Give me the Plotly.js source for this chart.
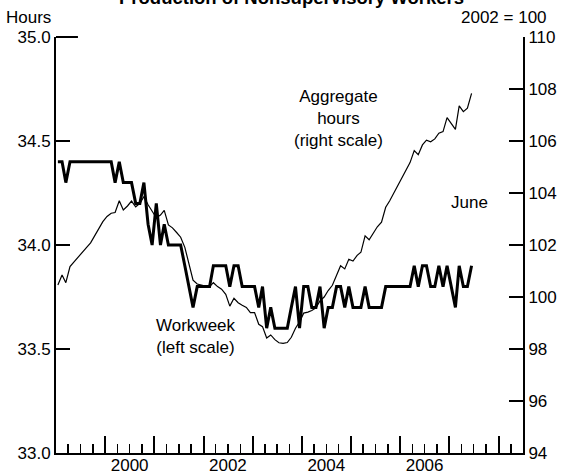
<!DOCTYPE html>
<html>
<head>
<meta charset="utf-8">
<script src="https://cdn.plot.ly/plotly-3.0.1.min.js"></script>
<style>
html,body{margin:0;padding:0;background:#fff;}
#chart{width:566px;height:476px;}
</style>
</head>
<body>
<div id="chart"></div>
<script>
// Monthly series, January 1999 through June 2007
const firstYear = 1999;
const firstMonth = 1;

// Average weekly hours of production or nonsupervisory workers (left scale)
const workweek = [
  34.4, 34.4, 34.3, 34.4, 34.4, 34.4, 34.4, 34.4, 34.4, 34.4, 34.4, 34.4,
  34.4, 34.4, 34.3, 34.4, 34.3, 34.3, 34.3, 34.2, 34.2, 34.3, 34.1, 34.0,
  34.2, 34.0, 34.1, 34.0, 34.0, 34.0, 34.0, 33.9, 33.8, 33.7, 33.8, 33.8,
  33.8, 33.8, 33.9, 33.9, 33.9, 33.9, 33.8, 33.9, 33.9, 33.8, 33.8, 33.8,
  33.8, 33.7, 33.8, 33.6, 33.7, 33.6, 33.6, 33.6, 33.6, 33.7, 33.8, 33.6,
  33.8, 33.8, 33.7, 33.7, 33.8, 33.6, 33.7, 33.7, 33.8, 33.8, 33.7, 33.8,
  33.7, 33.7, 33.7, 33.8, 33.7, 33.7, 33.7, 33.7, 33.8, 33.8, 33.8, 33.8,
  33.8, 33.8, 33.8, 33.9, 33.8, 33.9, 33.9, 33.8, 33.8, 33.9, 33.8, 33.9,
  33.8, 33.7, 33.9, 33.8, 33.8, 33.9
];

// Aggregate hours index, 2002 = 100 (right scale)
const aggregateHours = [
  100.46, 100.85, 100.55, 101.17, 101.35, 101.55, 101.70, 101.90, 102.08, 102.35, 102.64, 102.90,
  103.10, 103.22, 103.25, 103.70, 103.35, 103.50, 103.69, 103.47, 103.60, 103.86, 103.55, 103.30,
  103.05, 103.15, 103.33, 102.77, 102.66, 102.48, 102.30, 101.91, 101.27, 100.65, 100.50, 100.45,
  100.42, 100.40, 100.55, 100.40, 100.30, 100.10, 99.65, 99.95, 99.78, 99.68, 99.60, 99.40,
  99.40, 98.95, 98.86, 98.42, 98.54, 98.36, 98.24, 98.22, 98.25, 98.45, 98.80, 99.05,
  99.38, 99.42, 99.48, 99.58, 99.85, 100.00, 100.25, 100.45, 100.85, 101.20, 101.08, 101.45,
  101.38, 101.60, 101.72, 102.35, 102.20, 102.48, 102.70, 102.88, 103.45, 103.70, 104.00, 104.35,
  104.60, 104.90, 105.17, 105.63, 105.47, 105.85, 106.03, 105.97, 106.08, 106.30, 106.36, 106.90,
  106.68, 106.45, 107.35, 107.13, 107.26, 107.83
];

const yearLabels = ['2000', '2002', '2004', '2006'];
const yearLabelDates = ['2000-07-01', '2002-07-01', '2004-07-01', '2006-07-01'];
const leftTicks = [33.0, 33.5, 34.0, 34.5, 35.0];
const leftTickText = ['33.0', '33.5', '34.0', '34.5', '35.0'];
const rightTicks = [94, 96, 98, 100, 102, 104, 106, 108, 110];
const xRange = ['1999-01-01', '2008-07-01'];

const months = workweek.map((_, i) => {
  const m = firstMonth - 1 + i;
  const y = firstYear + Math.floor(m / 12);
  const mm = (m % 12) + 1;
  return y + '-' + String(mm).padStart(2, '0') + '-15';
});

const FONT = '"Liberation Sans", Arial, Helvetica, sans-serif';
const FS = 17;

const traces = [
  {
    x: months, y: workweek, xaxis: 'x', yaxis: 'y',
    type: 'scatter', mode: 'lines',
    line: {color: '#000', width: 3},
    hoverinfo: 'skip'
  },
  {
    x: months, y: aggregateHours, xaxis: 'x2', yaxis: 'y2',
    type: 'scatter', mode: 'lines',
    line: {color: '#000', width: 1.2},
    hoverinfo: 'skip'
  }
];

const layout = {
  width: 566, height: 476,
  margin: {l: 56, r: 43, t: 37, b: 23, pad: 0},
  paper_bgcolor: '#fff', plot_bgcolor: '#fff',
  showlegend: false,
  font: {family: FONT, size: FS, color: '#000'},
  xaxis: {
    type: 'date', range: xRange, automargin: false,
    tickmode: 'linear', tick0: '1999-01-01', dtick: 'M12',
    ticks: 'inside', ticklen: 17, tickwidth: 2, tickcolor: '#000',
    showticklabels: false,
    showline: true, linewidth: 2, linecolor: '#000',
    showgrid: false, zeroline: false,
    minor: {tick0: '1999-01-01', dtick: 'M3', ticks: 'inside', ticklen: 9, tickwidth: 1.5, tickcolor: '#000', showgrid: false}
  },
  xaxis2: {
    type: 'date', range: xRange, overlaying: 'x', anchor: 'y', side: 'bottom', automargin: false,
    tickmode: 'array', tickvals: yearLabelDates, ticktext: yearLabels,
    ticks: '', showline: false, showgrid: false, zeroline: false,
    tickfont: {family: FONT, size: FS, color: '#000'}
  },
  yaxis: {
    range: [33, 35], automargin: false,
    tickmode: 'array', tickvals: leftTicks, ticktext: leftTickText,
    ticks: 'inside', ticklen: 14, tickwidth: 2, tickcolor: '#000',
    showline: true, linewidth: 2, linecolor: '#000',
    showgrid: false, zeroline: false,
    tickfont: {family: FONT, size: FS, color: '#000'}
  },
  yaxis2: {
    range: [94, 110], overlaying: 'y', side: 'right', anchor: 'x', automargin: false,
    tickmode: 'array', tickvals: rightTicks,
    ticks: 'inside', ticklen: 14, tickwidth: 2, tickcolor: '#000',
    showline: true, linewidth: 2, linecolor: '#000',
    showgrid: false, zeroline: false,
    tickfont: {family: FONT, size: FS, color: '#000'}
  },
  shapes: [
    {type: 'line', xref: 'paper', yref: 'paper', x0: 0, x1: 0.047, y0: 1, y1: 1,
     line: {color: '#000', width: 2}}
  ],
  annotations: [
    {text: '<b>Production of Nonsupervisory Workers</b>', xref: 'paper', yref: 'paper',
     x: 0.505, y: 1.067, xanchor: 'center', yanchor: 'bottom', showarrow: false, borderpad: 0,
     font: {family: FONT, size: 18.5, color: '#000'}},
    {text: 'Hours', xref: 'paper', yref: 'paper', x: -0.109, y: 1.022,
     xanchor: 'left', yanchor: 'bottom', showarrow: false, borderpad: 0,
     font: {family: FONT, size: FS, color: '#000'}},
    {text: '2002 = 100', xref: 'paper', yref: 'paper', x: 1.0535, y: 1.022,
     xanchor: 'right', yanchor: 'bottom', showarrow: false, borderpad: 0,
     font: {family: FONT, size: FS, color: '#000'}},
    {text: 'Aggregate<br>hours<br>(right scale)', xref: 'paper', yref: 'paper', x: 0.604, y: 0.805,
     xanchor: 'center', yanchor: 'middle', showarrow: false, align: 'center',
     font: {family: FONT, size: FS, color: '#000'}},
    {text: 'June', xref: 'paper', yref: 'paper', x: 0.886, y: 0.601,
     xanchor: 'center', yanchor: 'middle', showarrow: false,
     font: {family: FONT, size: FS, color: '#000'}},
    {text: 'Workweek<br>(left scale)', xref: 'paper', yref: 'paper', x: 0.30, y: 0.281,
     xanchor: 'center', yanchor: 'middle', showarrow: false, align: 'center',
     font: {family: FONT, size: FS, color: '#000'}}
  ]
};

Plotly.newPlot('chart', traces, layout, {staticPlot: true, displayModeBar: false});
</script>
</body>
</html>
